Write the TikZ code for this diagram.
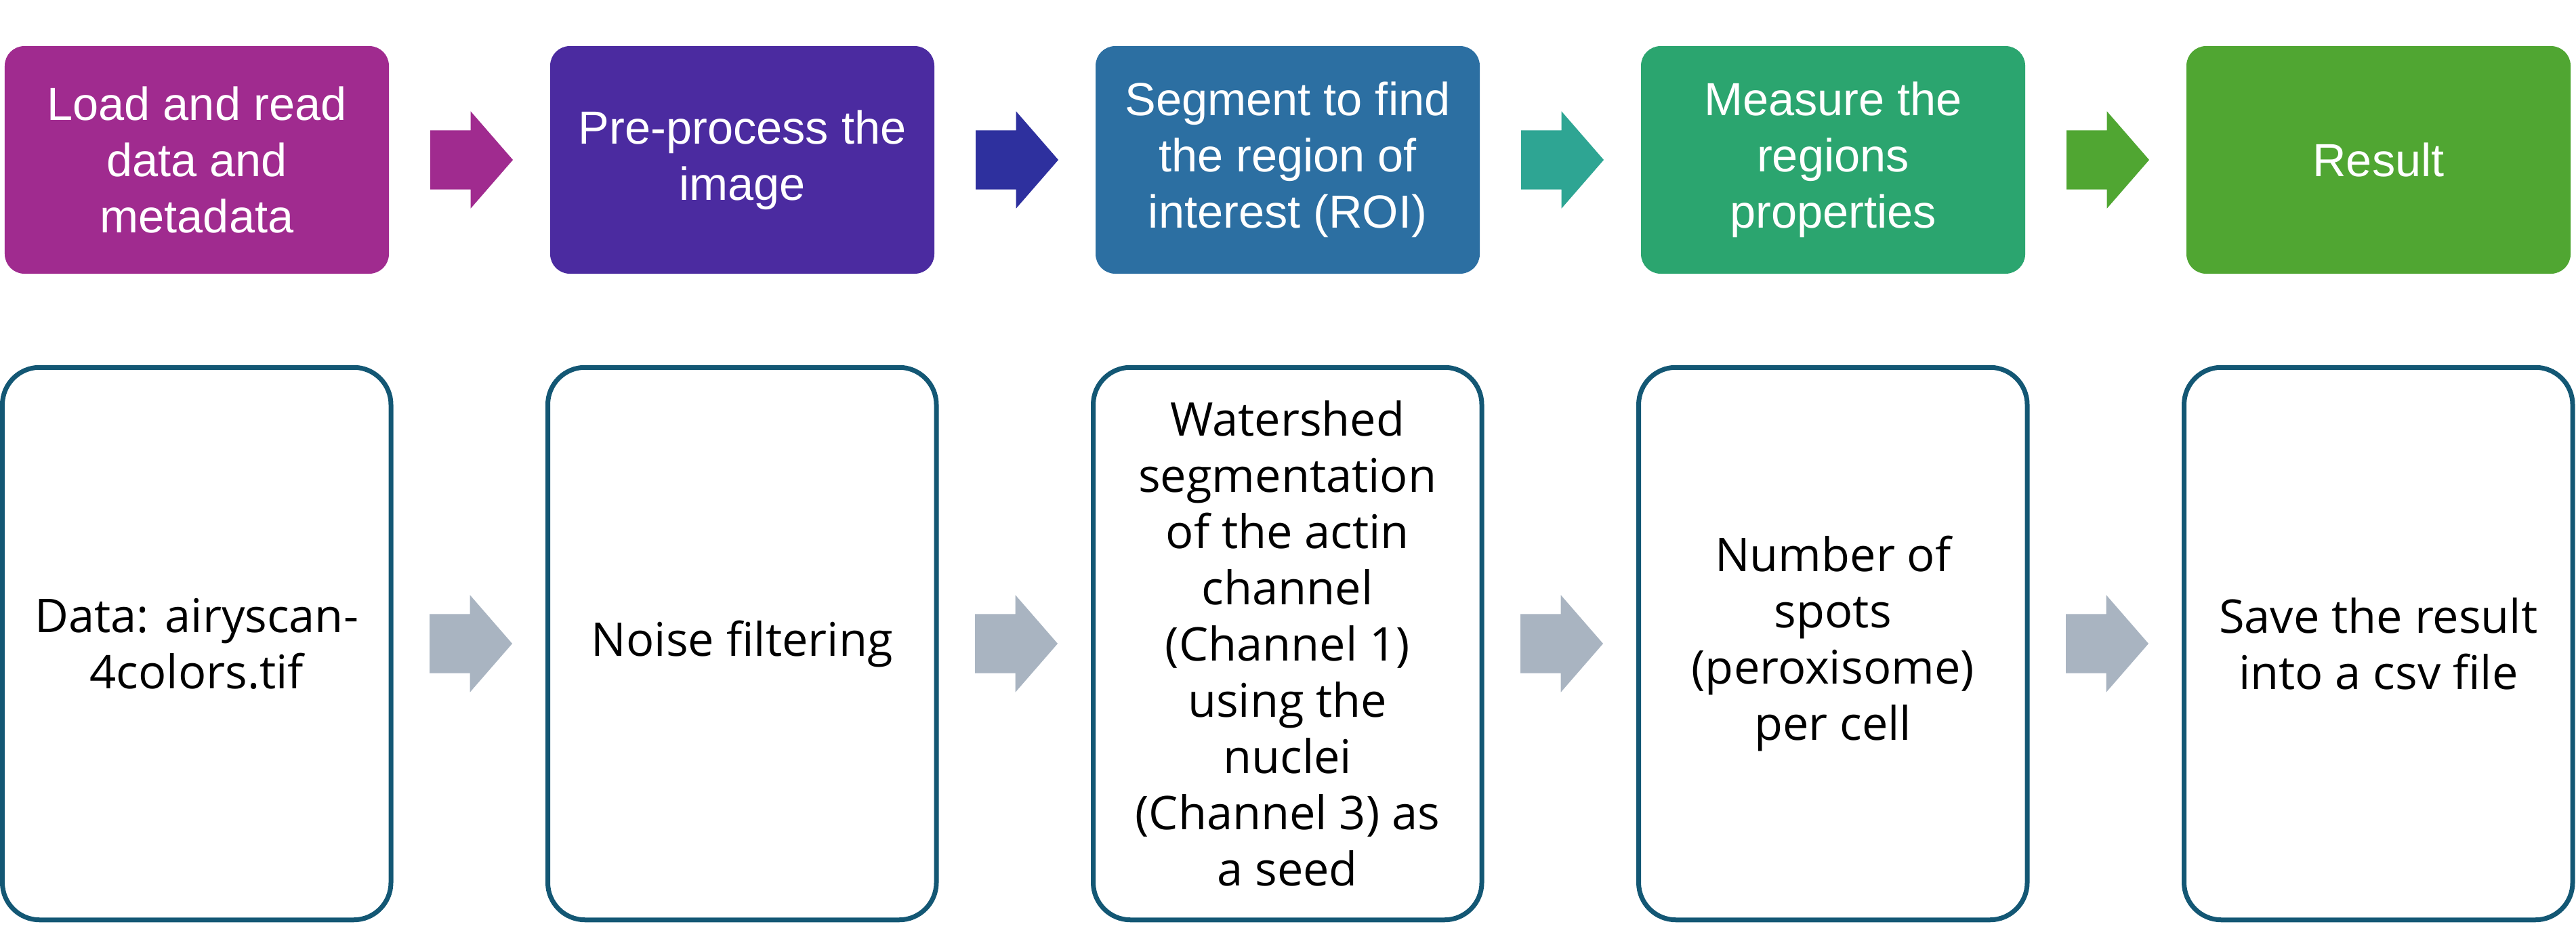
\documentclass[tikz,border=0pt]{standalone}
\usepackage{fontspec}
\setmainfont{Liberation Sans}
\newfontfamily\detailfont{Open Sans}
\usepackage{tikz}
\usetikzlibrary{positioning, shapes.arrows, calc}
\definecolor{loadpurple}{HTML}{A02B8F}
\definecolor{prepviolet}{HTML}{4B2BA0}
\definecolor{prepblue}{HTML}{2E309E}
\definecolor{segblue}{HTML}{2C6FA2}
\definecolor{segteal}{HTML}{2EA593}
\definecolor{measgreen}{HTML}{2BA56F}
\definecolor{resgreen}{HTML}{50A632}
\definecolor{detailblue}{HTML}{135774}
\definecolor{flowgrey}{HTML}{A9B4C1}

\begin{document}
\begin{tikzpicture}[
    stage/.style={fill=#1, text=white, rounded corners=0.29cm, inner sep=0pt, outer sep=0pt,
                  minimum width=5.67cm, minimum height=3.36cm, align=center,
                  font=\fontsize{19.5}{23.6}\selectfont},
    detail/.style={draw=detailblue, line width=0.07cm, rounded corners=0.55cm, inner sep=0pt, outer sep=0pt,
                   minimum width=5.735cm, minimum height=8.155cm, align=center,
                   font=\detailfont\fontsize{19.5}{23.6}\selectfont},
    flow/.style={single arrow, fill=#1, inner xsep=0pt, inner ysep=0.43cm, outer sep=0pt,
                 minimum height=1.22cm,
                 single arrow head extend=0.28cm, single arrow tip angle=98}
  ]
    \useasboundingbox (0,0) rectangle (38.02,-13.85);

    % top row: the steps
    \node[stage=loadpurple] (load) at (2.905,-2.36) {Load and read\\data and\\metadata};
    \node[stage=prepviolet, right=2.38cm of load] (prep) {Pre-process the\\image};
    \node[stage=segblue, right=2.38cm of prep] (seg) {Segment to find\\the region of\\interest (ROI)};
    \node[stage=measgreen, right=2.38cm of seg] (meas) {Measure the\\regions\\properties};
    \node[stage=resgreen, right=2.38cm of meas] (res) {Result};

    \node[flow=loadpurple, right=0.61cm of load] (loadprep) {};
    \node[flow=prepblue, right=0.61cm of prep] (prepseg) {};
    \node[flow=segteal, right=0.61cm of seg] (segmeas) {};
    \node[flow=resgreen, right=0.61cm of meas] (measres) {};

    % bottom row: what is done in each step
    \node[detail] (data) at (2.9025,-9.50) {Data: airyscan-\\4colors.tif};
    \node[detail, right=2.315cm of data] (noise) {Noise filtering};
    \node[detail, right=2.315cm of noise] (water) {Watershed\\segmentation\\of the actin\\channel\\(Channel 1)\\using the\\nuclei\\(Channel 3) as\\a seed};
    \node[detail, right=2.315cm of water] (spots) {Number of\\spots\\(peroxisome)\\per cell};
    \node[detail, right=2.315cm of spots] (save) {Save the result\\into a csv file};

    \node[flow=flowgrey, right=0.57cm of data] (datanoise) {};
    \node[flow=flowgrey, right=0.57cm of noise] (noisewater) {};
    \node[flow=flowgrey, right=0.57cm of water] (waterspots) {};
    \node[flow=flowgrey, right=0.57cm of spots] (spotssave) {};
  \end{tikzpicture}
\end{document}
